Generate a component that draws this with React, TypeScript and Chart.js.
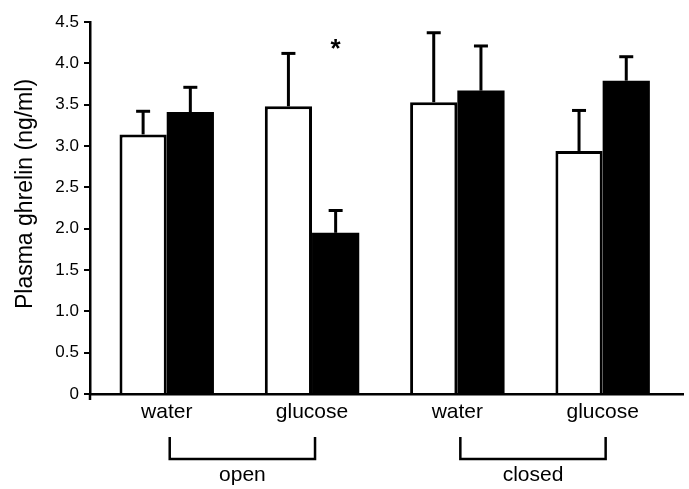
import React, { useEffect, useRef } from 'react';
import { Chart, registerables } from 'chart.js';

Chart.register(...registerables);

// ---- data ----
const categories = ['water', 'glucose', 'water', 'glucose'];
const categoryPositions = [0, 1, 2, 3];
const whiteMeans = [3.14, 3.48, 3.53, 2.94];
const whiteSem = [0.28, 0.64, 0.84, 0.49];
const blackMeans = [3.41, 1.95, 3.67, 3.79];
const blackSem = [0.3, 0.27, 0.54, 0.29];
const yTickValues = [0, 0.5, 1, 1.5, 2, 2.5, 3, 3.5, 4, 4.5];
const groupLabels = ['open', 'closed'];
const groupFrom = [0, 2];
const groupTo = [1, 3];
const starCategory = 1;
const starDataset = 1;
const starValue = 4.22;
const yTitle = 'Plasma ghrelin (ng/ml)';

const FONT = '"Liberation Sans", Arial, Helvetica, sans-serif';

const semByDataset = [whiteSem, blackSem];

const annotationsPlugin = {
  id: 'annotations',
  afterDatasetsDraw(chart: any) {
    const ctx = chart.ctx;
    const yScale = chart.scales.y;
    ctx.save();
    ctx.strokeStyle = '#000';
    ctx.lineWidth = 3;
    ctx.lineCap = 'butt';
    chart.data.datasets.forEach((ds: any, di: number) => {
      const meta = chart.getDatasetMeta(di);
      meta.data.forEach((el: any, j: number) => {
        const mean = ds.data[j].y;
        const top = yScale.getPixelForValue(mean + semByDataset[di][j]);
        ctx.beginPath();
        ctx.moveTo(el.x, el.y);
        ctx.lineTo(el.x, top);
        ctx.stroke();
        ctx.beginPath();
        ctx.moveTo(el.x - 7, top);
        ctx.lineTo(el.x + 7, top);
        ctx.stroke();
      });
    });
    ctx.restore();
  },
  afterDraw(chart: any) {
    const ctx = chart.ctx;
    const xScale = chart.scales.x;
    const yScale = chart.scales.y;
    const area = chart.chartArea;
    ctx.save();
    ctx.fillStyle = '#000';
    ctx.strokeStyle = '#000';

    // y axis title
    ctx.save();
    ctx.translate(26, (area.top + area.bottom) / 2 - 14);
    ctx.rotate(-Math.PI / 2);
    ctx.font = `23px ${FONT}`;
    ctx.textAlign = 'center';
    ctx.textBaseline = 'middle';
    ctx.fillText(yTitle, 0, 0);
    ctx.restore();

    // star
    const starEl = chart.getDatasetMeta(starDataset).data[starCategory];
    ctx.font = `bold 26px ${FONT}`;
    ctx.textAlign = 'center';
    ctx.textBaseline = 'middle';
    ctx.fillText('*', starEl.x, yScale.getPixelForValue(starValue) + 5);

    // small extension of y axis below the x axis
    ctx.lineWidth = 2.5;
    ctx.beginPath();
    ctx.moveTo(area.left, area.bottom);
    ctx.lineTo(area.left, area.bottom + 6);
    ctx.stroke();

    // brackets
    const bTop = area.bottom + 43;
    const bBottom = area.bottom + 65;
    groupLabels.forEach((label, i) => {
      const x1 = xScale.getPixelForValue(groupFrom[i]) + 3;
      const x2 = xScale.getPixelForValue(groupTo[i]) + 3;
      ctx.lineWidth = 2.5;
      ctx.beginPath();
      ctx.moveTo(x1, bTop);
      ctx.lineTo(x1, bBottom);
      ctx.lineTo(x2, bBottom);
      ctx.lineTo(x2, bTop);
      ctx.stroke();
      ctx.font = `21px ${FONT}`;
      ctx.textAlign = 'center';
      ctx.textBaseline = 'alphabetic';
      ctx.fillText(label, (x1 + x2) / 2, area.bottom + 87);
    });
    ctx.restore();
  },
};

export default function App() {
  const canvasRef = useRef<HTMLCanvasElement | null>(null);

  useEffect(() => {
    if (!canvasRef.current) return;
    const chart = new Chart(canvasRef.current, {
      type: 'bar',
      data: {
        datasets: [
          {
            label: 'white',
            data: categoryPositions.map((x, i) => ({ x, y: whiteMeans[i] })),
            backgroundColor: '#ffffff',
            borderColor: '#000000',
            borderWidth: 3,
            borderSkipped: 'bottom',
          },
          {
            label: 'black',
            data: categoryPositions.map((x, i) => ({ x, y: blackMeans[i] })),
            backgroundColor: '#000000',
            borderColor: '#000000',
            borderWidth: 0,
          },
        ],
      },
      options: {
        responsive: false,
        animation: false,
        categoryPercentage: 0.65,
        barPercentage: 1,
        layout: { padding: { left: 0, top: 22, right: 6, bottom: 0 } },
        plugins: {
          legend: { display: false },
          tooltip: { enabled: false },
          title: { display: false },
        },
        scales: {
          x: {
            type: 'linear',
            offset: false,
            min: -0.528,
            max: 3.553,
            afterBuildTicks: (scale: any) => {
              scale.ticks = categoryPositions.map((v) => ({ value: v }));
            },
            afterFit: (scale: any) => {
              scale.height = 95;
            },
            grid: { display: false, drawTicks: false, offset: false },
            border: { display: true, color: '#000', width: 2.5 },
            ticks: {
              color: '#000',
              font: { family: FONT, size: 21 },
              padding: 6,
              maxRotation: 0,
              autoSkip: false,
              callback: (v: any) => categories[categoryPositions.indexOf(Number(v))] ?? '',
            },
          },
          y: {
            type: 'linear',
            min: 0,
            max: 4.5,
            afterBuildTicks: (scale: any) => {
              scale.ticks = yTickValues.map((v) => ({ value: v }));
            },
            afterFit: (scale: any) => {
              scale.width = 90;
            },
            grid: {
              display: true,
              drawOnChartArea: false,
              drawTicks: true,
              tickLength: 6,
              color: '#000',
              lineWidth: 2,
            },
            border: { display: true, color: '#000', width: 2.5 },
            ticks: {
              color: '#000',
              font: { family: FONT, size: 17 },
              padding: 5,
              callback: (v: any) => (Number(v) === 0 ? '0' : Number(v).toFixed(1)),
            },
          },
        },
      },
      plugins: [annotationsPlugin],
    } as any);
    return () => chart.destroy();
  }, []);

  return (
    <div style={{ position: 'absolute', left: 0, top: 0, width: 689, height: 489, background: '#fff' }}>
      <canvas ref={canvasRef} width={689} height={489} style={{ width: 689, height: 489 }} />
    </div>
  );
}
